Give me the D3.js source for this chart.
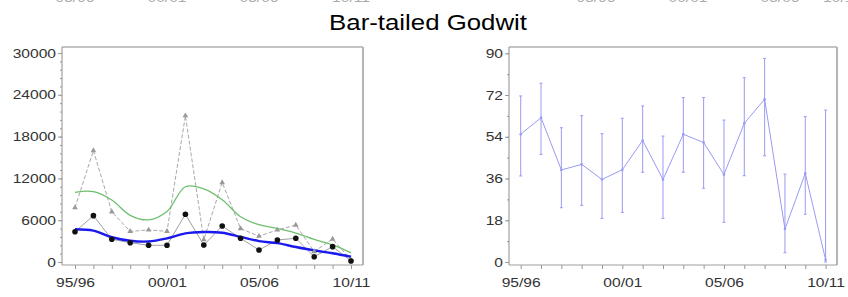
<!DOCTYPE html>
<html>
<head>
<meta charset="utf-8">
<script src="https://cdn.jsdelivr.net/npm/d3@7"></script>
<style>
  body { margin: 0; background: #fff; }
  text { font-family: "Liberation Sans", Arial, sans-serif; }
</style>
</head>
<body>
<svg id="chart" width="848" height="297"></svg>
<script>
const seasons = ["95/96","96/97","97/98","98/99","99/00","00/01","01/02","02/03","03/04","04/05","05/06","06/07","07/08","08/09","09/10","10/11"];

// left panel: counts (triangles / circles) and smoothed trends
const peakCounts = [7800, 16000, 7200, 4400, 4600, 4400, 21000, 3200, 11400, 4800, 3700, 4600, 5300, 1500, 3300, 300];
const meanCounts = [4350, 6650, 3260, 2770, 2400, 2400, 6850, 2440, 5170, 3400, 1720, 3160, 3400, 760, 2200, 140];
const peakTrend = [10000, 10100, 8900, 6700, 6050, 7250, 10800, 10500, 8950, 6500, 5350, 4800, 4150, 3250, 2450, 1300];
const meanTrend = [4700, 4500, 3550, 3050, 2950, 3400, 4100, 4300, 4200, 3600, 3000, 2700, 2150, 1650, 1250, 750];

// right panel: index with error bars
const indexValue = [55.1, 62.2, 39.7, 42.1, 35.6, 39.8, 52.4, 35.6, 55.1, 51.5, 37.7, 59.8, 70.2, 14.2, 38.2, 1];
const indexHigh = [71.6, 77.1, 57.9, 63.1, 55.3, 62.0, 67.3, 54.3, 70.9, 70.9, 61.2, 79.5, 87.8, 37.9, 62.7, 65.5];
const indexLow = [37.1, 46.4, 23.4, 24.4, 18.8, 21.4, 38.7, 18.8, 38.7, 31.8, 17.1, 37.2, 45.8, 4.0, 20.6, 0];

const leftTicks = [0, 6000, 12000, 18000, 24000, 30000];
const rightTicks = [0, 18, 36, 54, 72, 90];

const svg = d3.select("#chart");
const stretch = 1.2;
const idx = d3.range(seasons.length);

// cut-off labels of the panel above (only their lower edge shows)
const topFragments = [75, 167, 259, 351, 596, 688, 780, 842];
svg.selectAll(".frag")
    .data(topFragments)
    .join("text")
    .attr("class", "frag")
    .attr("transform", d => `translate(${d},1.5) scale(${stretch},1)`)
    .attr("text-anchor", "middle")
    .attr("font-size", 13)
    .attr("fill", "#aaa")
    .text((d, i) => ["95/96", "00/01", "05/06", "10/11"][i % 4]);

svg.append("text")
    .attr("transform", `translate(428,30) scale(${stretch},1)`)
    .attr("text-anchor", "middle")
    .attr("font-size", 21.5)
    .attr("fill", "#000")
    .text("Bar-tailed Godwit");

const drawPanel = (box, x, y, majorTicks, minorStep, fmt) => {
    const g = svg.append("g");

    // frame
    g.append("line").attr("x1", box.left).attr("x2", box.right).attr("y1", box.top).attr("y2", box.top)
        .attr("stroke", "#c4c4c4").attr("stroke-width", 2);
    g.append("line").attr("x1", box.right).attr("x2", box.right).attr("y1", box.top).attr("y2", box.bottom)
        .attr("stroke", "#b4b4b4").attr("stroke-width", 2);
    g.append("line").attr("x1", box.left).attr("x2", box.left).attr("y1", box.top).attr("y2", box.bottom)
        .attr("stroke", "#a0a0a0").attr("stroke-width", 1.2);
    g.append("line").attr("x1", box.left).attr("x2", box.right).attr("y1", box.bottom).attr("y2", box.bottom)
        .attr("stroke", "#a0a0a0").attr("stroke-width", 1.2);

    const yMinor = g.append("g").attr("transform", `translate(${box.left},0)`)
        .call(d3.axisLeft(y).tickValues(d3.range(0, majorTicks[majorTicks.length - 1] + 1, minorStep)).tickSize(2).tickFormat(""));
    const yAxis = g.append("g").attr("transform", `translate(${box.left},0)`)
        .call(d3.axisLeft(y).tickValues(majorTicks).tickSize(4).tickPadding(1).tickFormat(fmt));
    const xAxis = g.append("g").attr("transform", `translate(0,${box.bottom})`)
        .call(d3.axisBottom(x).tickValues(idx).tickSize(4).tickPadding(9).tickFormat(i => i % 5 === 0 ? seasons[i] : ""));

    [yMinor, yAxis, xAxis].forEach(a => {
        a.select(".domain").remove();
        a.selectAll("line").attr("stroke", "#999");
        a.selectAll("text")
            .attr("font-size", 13)
            .attr("fill", "#333")
            .attr("font-family", "Liberation Sans, Arial, sans-serif")
            .attr("transform", `scale(${stretch},1)`);
    });
    return g;
};

// Left panel
const xL = d3.scaleLinear().domain([0, 15]).range([75, 351]);
const yL = d3.scaleLinear().domain([0, 30000]).range([262, 53]);
const left = drawPanel({left: 62, right: 363, top: 47, bottom: 265}, xL, yL, leftTicks, 1200, d3.format("d"));

const lineL = d3.line().x((d, i) => xL(i)).y(d => yL(d));
const smoothL = d3.line().x((d, i) => xL(i)).y(d => yL(d)).curve(d3.curveCatmullRom.alpha(0.5));

left.append("path").datum(peakCounts).attr("d", lineL)
    .attr("fill", "none").attr("stroke", "#a8a8a8").attr("stroke-width", 1).attr("stroke-dasharray", "4,2");
left.append("path").datum(meanCounts).attr("d", lineL)
    .attr("fill", "none").attr("stroke", "#888").attr("stroke-width", 0.8);
left.append("path").datum(peakTrend).attr("d", smoothL)
    .attr("fill", "none").attr("stroke", "#6fbf6f").attr("stroke-width", 1.3);
left.append("path").datum(meanTrend).attr("d", smoothL)
    .attr("fill", "none").attr("stroke", "#1a1aee").attr("stroke-width", 2.4);

left.selectAll(".tri")
    .data(peakCounts)
    .join("path")
    .attr("class", "tri")
    .attr("d", d3.symbol(d3.symbolTriangle, 14))
    .attr("transform", (d, i) => `translate(${xL(i)},${yL(d)})`)
    .attr("fill", "#999");

left.selectAll(".dot")
    .data(meanCounts)
    .join("circle")
    .attr("class", "dot")
    .attr("cx", (d, i) => xL(i))
    .attr("cy", d => yL(d))
    .attr("r", 2.8)
    .attr("fill", "#111");

// Right panel
const xR = d3.scaleLinear().domain([0, 15]).range([520.7, 825.6]);
const yR = d3.scaleLinear().domain([0, 90]).range([262, 53.3]);
const right = drawPanel({left: 509, right: 837, top: 47, bottom: 265}, xR, yR, rightTicks, 9, d3.format("d"));

const errColor = "#9a9af4";
const bars = right.selectAll(".err")
    .data(idx)
    .join("g")
    .attr("class", "err");
bars.append("line")
    .attr("x1", i => xR(i)).attr("x2", i => xR(i))
    .attr("y1", i => yR(indexLow[i])).attr("y2", i => yR(indexHigh[i]))
    .attr("stroke", errColor).attr("stroke-width", 1);
bars.append("line")
    .attr("x1", i => xR(i) - 1.5).attr("x2", i => xR(i) + 1.5)
    .attr("y1", i => yR(indexHigh[i])).attr("y2", i => yR(indexHigh[i]))
    .attr("stroke", errColor).attr("stroke-width", 1);
bars.append("line")
    .attr("x1", i => xR(i) - 1.5).attr("x2", i => xR(i) + 1.5)
    .attr("y1", i => yR(indexLow[i])).attr("y2", i => yR(indexLow[i]))
    .attr("stroke", errColor).attr("stroke-width", 1);

right.append("path").datum(indexValue)
    .attr("d", d3.line().x((d, i) => xR(i)).y(d => yR(d)))
    .attr("fill", "none").attr("stroke", errColor).attr("stroke-width", 1);

right.selectAll(".mdot")
    .data(indexValue)
    .join("circle")
    .attr("class", "mdot")
    .attr("cx", (d, i) => xR(i))
    .attr("cy", d => yR(d))
    .attr("r", 1.3)
    .attr("fill", errColor);
</script>
</body>
</html>
